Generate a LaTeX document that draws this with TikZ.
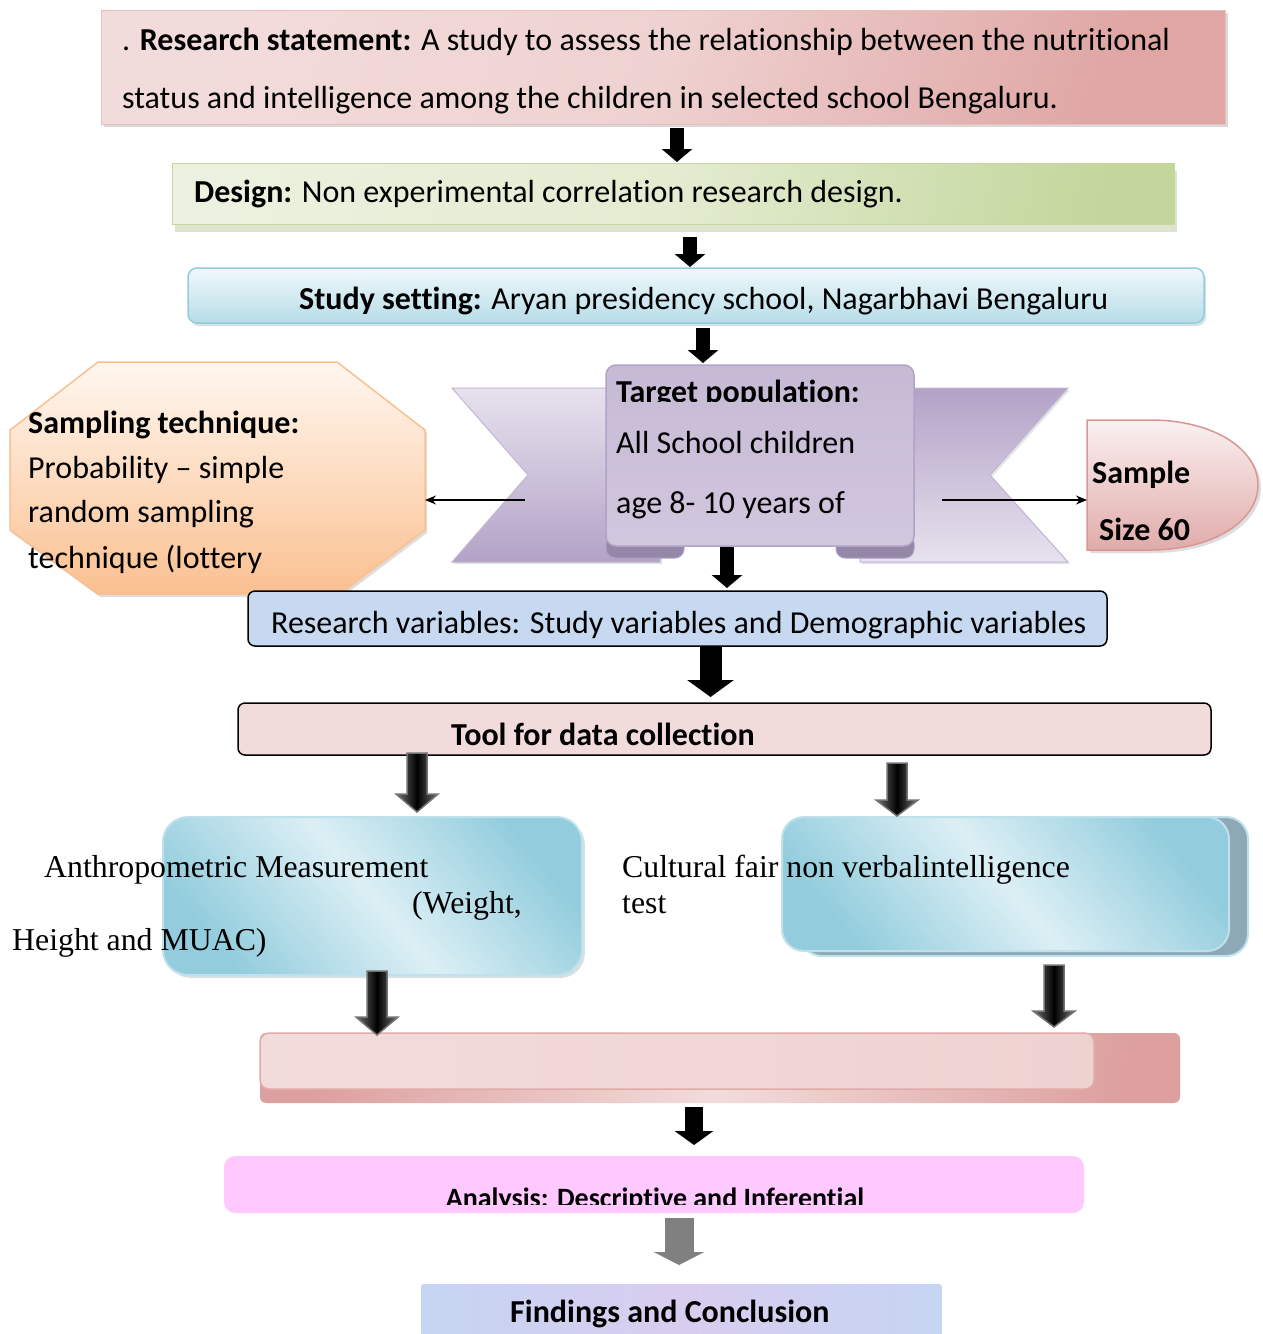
\documentclass[tikz,border=0pt]{standalone}
\usepackage{fontspec}
\setmainfont{Carlito}[Ligatures=NoCommon]
\newfontfamily\tms{Liberation Serif}
\usetikzlibrary{arrows.meta,shadows,calc}
\definecolor{rsL}{HTML}{F2DCDB}
\definecolor{rsD}{HTML}{D99694}
\definecolor{dgL}{HTML}{EBF1DE}
\definecolor{dgD}{HTML}{C3D69B}
\definecolor{dgS}{HTML}{BFC6A5}
\definecolor{ssL}{HTML}{F0F8FB}
\definecolor{ssD}{HTML}{B7DDE8}
\definecolor{ssB}{HTML}{93CDDD}
\definecolor{rbL}{HTML}{E7E2EE}
\definecolor{rbD}{HTML}{B3A2C7}
\definecolor{rbR}{HTML}{9487A8}
\definecolor{ocL}{HTML}{FFF7F0}
\definecolor{ocD}{HTML}{FAC090}
\definecolor{rvF}{HTML}{C6D9F1}
\definecolor{tlF}{HTML}{F2DCDB}
\definecolor{blL}{HTML}{DCEFF5}
\definecolor{blD}{HTML}{93CDDD}
\definecolor{bgS}{HTML}{8EA9B5}
\definecolor{anF}{HTML}{FFC9FF}
\definecolor{fdA}{HTML}{C5D5F2}
\definecolor{fdB}{HTML}{D9CDEF}
\tikzset{
  txt/.style={anchor=base west, inner sep=0pt, font=\fontsize{32}{38}\selectfont},
  tms/.style={anchor=base west, inner sep=0pt, font=\tms\fontsize{31.8}{37}\selectfont},
  boxnw/.style={anchor=north west, inner sep=0pt, outer sep=0pt},
  barrowS/.style={line width=14pt, -{Triangle[width=30pt,length=13pt]}},
  barrowL/.style={line width=22pt, -{Triangle[width=46pt,length=17pt]}},
  barrowM/.style={line width=18pt, -{Triangle[width=38pt,length=14pt]}},
  barrowG/.style={line width=29pt, draw=black!50, -{Triangle[width=50pt,length=13pt]}},
  thinarrow/.style={line width=1.3pt, -{Stealth[length=11pt,width=9pt]}},
  garrow/.style={draw=black!55, line width=1.5pt, left color=black!55, right color=black!55, middle color=black},
}
\newcommand\garw[6]{%
\path[garrow] (#1-#4,#2) -- (#1+#4,#2) -- (#1+#4,#3-#6) -- (#1+#5,#3-#6) -- (#1,#3) -- (#1-#5,#3-#6) -- (#1-#4,#3-#6) -- cycle;}
\begin{document}
\begin{tikzpicture}[x=1pt,y=-1pt]
\useasboundingbox[fill=white] (0,0) rectangle (1262,1334);

% Research statement
\node[boxnw, minimum width=1124pt, minimum height=114pt, draw=rsD!60, line width=1pt,
  left color=rsL, right color=rsD!85, middle color=rsL!85!rsD, shading angle=70,
  drop shadow={shadow xshift=3pt, shadow yshift=-3pt, fill=black!30}] (rs) at (101,10) {};
\node[txt] (rs1) at (122,50) {. \textbf{Research statement:} A study to assess the relationship between the nutritional};
\node[txt] (rs2) at (122,108) {status and intelligence among the children in selected school Bengaluru.};

% Design
\node[boxnw, minimum width=1002pt, minimum height=61pt, draw=dgD, line width=1pt,
  left color=dgL, right color=dgD, middle color=dgL!80!dgD, shading angle=80,
  drop shadow={shadow xshift=3pt, shadow yshift=-8pt, fill=dgS}] (design) at (172,163) {};
\node[txt] (dtx) at (194,202) {\textbf{Design:} Non experimental correlation research design.};

% Study setting
\node[boxnw, minimum width=1016pt, minimum height=55pt, rounded corners=9pt, draw=ssB, line width=1.5pt,
  top color=ssL, bottom color=ssD,
  drop shadow={shadow xshift=2pt, shadow yshift=-3pt, fill=ssB!80!black!60}] (ss) at (188,268) {};
\node[txt] (sstx) at (299,309) {\textbf{Study setting:} Aryan presidency school, Nagarbhavi Bengaluru};

% Ribbon tails
\path[draw=rbD!80, line width=1pt, top color=rbL, bottom color=rbD,
  drop shadow={shadow xshift=2pt, shadow yshift=-2pt, fill=black!20}]
  (452,388) -- (660,388) -- (660,562) -- (452,562) -- (528,475) -- cycle;
\path[draw=rbD!80, line width=1pt, top color=rbD, bottom color=rbL,
  drop shadow={shadow xshift=2pt, shadow yshift=-2pt, fill=black!20}]
  (860,388) -- (1068,388) -- (990,475) -- (1068,562) -- (860,562) -- cycle;
% rolls
\draw[fill=rbR, draw=rbD, line width=1pt, rounded corners=9pt] (606,534) rectangle (684,558);
\draw[fill=rbR, draw=rbD, line width=1pt, rounded corners=9pt] (836,534) rectangle (914,558);
% panel
\node[boxnw, minimum width=308pt, minimum height=181pt, rounded corners=10pt, draw=rbD, line width=1.5pt,
  top color=rbD!75!white, middle color=rbL!70!white, bottom color=rbD!60!white] (tp) at (606,365) {};
\begin{scope}
\clip (606,360) rectangle (914,401);
\node[txt] (tp1) at (616,402) {\textbf{Target population:}};
\end{scope}
\node[txt] (tp2) at (616,453) {All School children};
\node[txt] (tp3) at (616,513) {age 8- 10 years of};

% Octagon
\path[draw=ocD, line width=1.5pt, top color=ocL, bottom color=ocD,
  drop shadow={shadow xshift=2pt, shadow yshift=-3pt, fill=black!25}]
  (98,362) -- (337,362) -- (425,430) -- (425,530) -- (340,594) -- (98,594) -- (10,530) -- (10,430) -- cycle;
\node[txt] (oc1) at (28,433) {\textbf{Sampling technique:}};
\node[txt] (oc2) at (28,478) {Probability – simple};
\node[txt] (oc3) at (28,522) {random sampling};
\node[txt] (oc4) at (28,568) {technique (lottery};

% Sample shape
\path[draw=rsD, line width=1.5pt, top color=rsL!40!white, bottom color=rsD!80,
  drop shadow={shadow xshift=3pt, shadow yshift=-3pt, fill=black!25}]
  (1087,420) -- (1150,420) .. controls (1215,420) and (1258,450) .. (1258,485)
  .. controls (1258,520) and (1215,550) .. (1150,550) -- (1087,550) -- cycle;
\node[txt] (sm1) at (1092,483) {\textbf{Sample}};
\node[txt] (sm2) at (1099,540) {\textbf{Size 60}};

% side connectors
\coordinate (ribL) at (525,500);
\coordinate (octE) at (425,500);
\coordinate (ribR) at (942,500);
\coordinate (smpW) at (1087,500);
\draw[thinarrow] (ribL) -- (octE);
\draw[thinarrow] (ribR) -- (smpW);

% Research variables
\node[boxnw, minimum width=859pt, minimum height=55pt, rounded corners=7pt, draw=black, line width=1.5pt,
  fill=rvF] (rv) at (248,591) {};
\node[txt] (rvtx) at (271,633) {Research variables: Study variables and Demographic variables};

% Tool
\node[boxnw, minimum width=973pt, minimum height=52pt, rounded corners=7pt, draw=black, line width=1.5pt,
  fill=tlF] (tl) at (238,703) {};
\node[txt] (tltx) at (451,745) {\textbf{Tool for data collection}};

% Left blue box
\node[boxnw, minimum width=419pt, minimum height=158pt, rounded corners=25pt, draw=blD!60!white, line width=2pt,
  left color=blD, right color=blD, middle color=blL, shading angle=-50,
  drop shadow={shadow xshift=3pt, shadow yshift=-3pt, fill=bgS!70}] (lb) at (163,817) {};
% Right blue box
\draw[fill=bgS, draw=blD!60!white, line width=2pt, rounded corners=22pt] (800,817) rectangle (1248,956);
\node[boxnw, minimum width=447pt, minimum height=134pt, rounded corners=22pt, draw=blD!60!white, line width=2pt,
  left color=blD, right color=blD, middle color=blL, shading angle=-50] (rb) at (782,817) {};

\node[tms] (lb1) at (44,877) {Anthropometric Measurement};
\node[tms] (lb2) at (412,913) {(Weight,};
\node[tms] (lb3) at (12,950) {Height and MUAC)};
\node[tms] (rb1) at (622,877) {Cultural fair non verbalintelligence};
\node[tms] (rb2) at (622,913) {test};

% Pink long box
\node[boxnw, minimum width=920pt, minimum height=70pt, rounded corners=6pt,
  left color=rsD!90, right color=rsD!90, middle color=rsL, shading angle=80] (pk) at (260,1033) {};
\draw[draw=rsD!80, line width=1.5pt, rounded corners=9pt, left color=rsL, right color=rsL!85!rsD] (260,1033) rectangle (1094,1089);

% Analysis
\node[boxnw, minimum width=860pt, minimum height=57pt, rounded corners=11pt, fill=anF] (an) at (224,1156) {};
\begin{scope}
\clip (224,1150) rectangle (1084,1204);
\node[anchor=base, inner sep=0pt, font=\fontsize{28}{34}\selectfont] (antx) at (655,1207) {\textbf{Analysis: Descriptive and Inferential}};
\end{scope}

% Findings
\node[boxnw, minimum width=521pt, minimum height=52pt, rounded corners=3pt,
  left color=fdA, right color=fdA, middle color=fdB] (fd) at (421,1284) {};
\node[txt] (fdtx) at (510,1322) {\textbf{Findings and Conclusion}};

% Block arrows
\draw[barrowS] ($(rs.south)+(14,4)$) coordinate (a1) -- ($(a1 |- design.north)+(0,-1)$);
\draw[barrowS] ($(design.south)+(17,13)$) coordinate (a2) -- ($(a2 |- ss.north)+(0,-1)$);
\draw[barrowS] ($(ss.south)+(7,5)$) coordinate (a3) -- ($(a3 |- tp.north)+(0,-2)$);
\draw[barrowS] ($(tp.south)+(-33,1)$) coordinate (a4) -- ($(a4 |- rv.north)+(0,-3)$);
\draw[barrowL] ($(rv.south)+(33,1)$) coordinate (a5) -- ($(a5 |- tl.north)+(0,-6)$);
\garw{417}{753}{812}{10}{21}{18}
\garw{897}{763}{816}{10}{21}{16}
\garw{377}{971}{1035}{10}{21}{18}
\garw{1054}{965}{1027}{10}{21}{16}
\draw[barrowM] ($(pk.south)+(-26,4)$) coordinate (a6) -- ($(a6 |- an.north)+(0,-11)$);
\draw[barrowG] ($(an.south)+(25,5)$) coordinate (a7) -- ($(a7 |- fd.north)+(0,-19)$);
\end{tikzpicture}
\end{document}
